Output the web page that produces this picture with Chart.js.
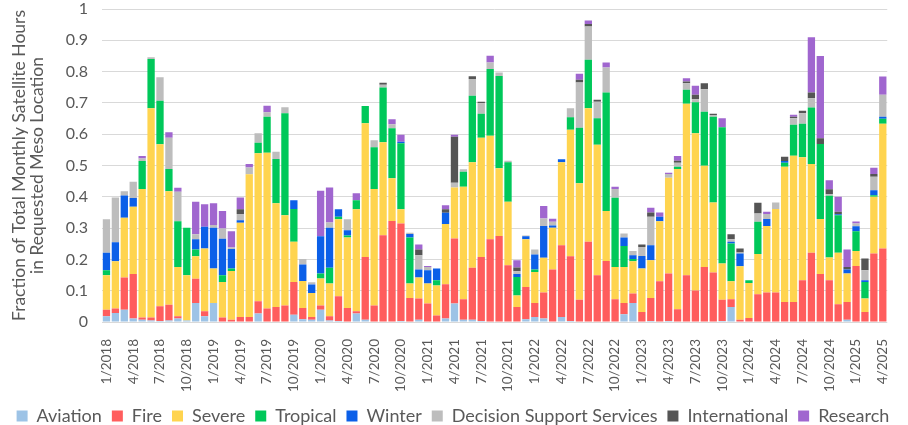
<!DOCTYPE html>
<html lang="en">
<head>
    <meta charset="UTF-8">
    <title>Meso sector hours by category</title>
    <style>
        body { margin: 0; background: #fff; }
        canvas { display: block; }
    </style>
    <script src="https://cdn.jsdelivr.net/npm/chart.js"></script>
</head>
<body>
    <canvas id="mesoChart" width="908" height="425"></canvas>

    <script>
        const months = [
            '1/2018','2/2018','3/2018','4/2018','5/2018','6/2018','7/2018','8/2018','9/2018','10/2018','11/2018','12/2018',
            '1/2019','2/2019','3/2019','4/2019','5/2019','6/2019','7/2019','8/2019','9/2019','10/2019','11/2019','12/2019',
            '1/2020','2/2020','3/2020','4/2020','5/2020','6/2020','7/2020','8/2020','9/2020','10/2020','11/2020','12/2020',
            '1/2021','2/2021','3/2021','4/2021','5/2021','6/2021','7/2021','8/2021','9/2021','10/2021','11/2021','12/2021',
            '1/2022','2/2022','3/2022','4/2022','5/2022','6/2022','7/2022','8/2022','9/2022','10/2022','11/2022','12/2022',
            '1/2023','2/2023','3/2023','4/2023','5/2023','6/2023','7/2023','8/2023','9/2023','10/2023','11/2023','12/2023',
            '1/2024','2/2024','3/2024','4/2024','5/2024','6/2024','7/2024','8/2024','9/2024','10/2024','11/2024','12/2024',
            '1/2025','2/2025','3/2025','4/2025'
        ];

        const aviation = [
            .018,.029,.039,.011,.007,.005,.003,.005,.011,.005,.061,.018,
            .061,0,0,0,0,.027,0,0,0,.023,.009,.007,
            .039,.005,.003,0,.027,.007,0,0,0,.003,0,.007,
            0,0,.011,.059,.007,.007,.003,0,0,0,0,.009,
            .016,.011,0,.016,.003,0,0,0,0,0,.025,.061,
            0,.003,0,.003,0,0,0,0,0,.003,.048,0,
            0,0,0,0,0,0,0,0,0,0,0,.007,
            0,0,0,0
        ];
        const fire = [
            .021,.014,.103,.142,.007,.009,.047,.05,.007,0,.077,.016,
            0,.014,.007,.016,.016,.039,.043,.048,.053,.105,.036,.009,
            .014,.013,.079,.045,.007,.201,.053,.277,.323,.312,.077,.068,
            .059,.021,.11,.208,.066,.166,.205,.264,.275,.181,.048,.103,
            .045,.083,.168,.229,.207,.071,.256,.149,.195,.073,.036,.03,
            .032,.074,.13,.152,.041,.149,.101,.176,.158,.068,.025,.007,
            .013,.089,.094,.094,.064,.064,.133,.221,.153,.133,.057,.057,
            .179,.032,.219,.235
        ];
        const severe = [
            .11,.151,.191,.215,.411,.669,.518,.363,.158,.144,.072,.201,
            .11,.114,.156,.301,.456,.473,.498,.331,.288,.128,.086,.077,
            .086,.105,.246,.225,.326,.427,.372,.297,.136,.045,.046,.067,
            .064,.096,.192,.163,.359,.337,.381,.331,.216,.203,.037,.152,
            .099,.111,.133,.265,.404,.372,.427,.417,.16,.103,.115,.103,
            .139,.12,.192,.306,.448,.548,.502,.323,.224,.116,.057,.171,
            .112,.128,.213,.267,.432,.467,.393,.284,.176,.073,.164,.091,
            .048,.043,.181,.398
        ];
        const tropical = [
            .016,0,0,0,.089,.157,.139,.071,.146,.152,.022,0,
            0,.021,.008,0,0,.034,.115,.142,.326,.105,0,0,
            .016,.05,.008,.006,.029,.055,.133,.175,.16,.211,.147,0,
            0,.016,0,0,.048,.213,.076,.213,.295,.126,.059,0,
            .008,0,0,0,.04,.178,.155,.085,.378,.221,.067,.007,
            0,0,0,0,.007,.045,.099,.173,.274,.435,.121,0,
            .008,.103,0,0,.013,.099,.107,.18,.24,.197,.12,0,
            .063,.053,.005,.016
        ];
        const winter = [
            .056,.061,.071,.028,0,0,0,0,0,0,.032,.069,
            .13,.117,.062,.008,0,0,0,0,0,.028,.053,.027,
            .119,.128,.024,.017,0,0,0,0,0,.005,.011,.026,
            .042,.038,.036,0,0,0,0,0,0,0,.009,.01,
            .048,.102,.007,.01,0,0,0,0,0,0,.027,.012,
            .04,.048,.014,0,0,0,0,0,0,0,.005,.041,
            0,0,.022,0,.005,0,0,0,0,0,.003,.013,
            .016,.005,.016,.007
        ];
        const dss = [
            .107,.143,.014,.052,.008,.006,.075,.1,.094,0,.016,0,
            .009,.033,.005,.02,.022,.03,.014,.023,.019,0,.017,.007,
            0,.017,0,.035,0,0,.023,.009,.013,0,.004,.045,
            .011,0,0,.015,.008,.053,.034,.021,.011,.005,.009,.002,
            .016,.024,.012,0,.029,.144,.106,.053,.08,.028,.013,.014,
            .029,.091,0,.012,.013,.021,.01,.072,.005,0,.008,.003,
            0,.027,.016,.021,0,.021,.034,.03,0,.005,0,0,
            .009,.032,.043,.07
        ];
        const international = [
            0,0,0,0,0,0,0,0,0,0,0,0,
            0,0,0,.015,0,0,0,0,0,0,0,0,
            0,0,0,0,0,0,0,.006,0,0,0,.019,
            0,0,.011,.147,0,.009,.005,0,0,0,.012,0,
            0,0,0,0,0,.009,.008,.006,0,0,0,0,
            .008,.014,0,0,.006,.005,.014,.019,.004,0,.016,.013,
            0,.034,0,0,.014,.005,.008,.018,.018,.016,.008,.008,
            0,.038,.009,0
        ];
        const research = [
            0,0,0,0,.008,0,0,.017,.013,0,.104,.072,
            .069,.056,.052,.038,.011,0,.021,0,0,0,0,0,
            .145,.112,0,0,.022,0,0,0,.016,.022,0,.016,
            .003,0,.013,.006,0,0,0,.022,0,0,.023,0,
            0,.04,.01,0,0,.019,.011,0,.016,.007,0,0,
            0,.015,.014,.004,.015,.011,.029,0,0,.029,0,0,
            0,0,.007,0,0,.006,0,.177,.263,.029,.048,.056,
            .006,0,.02,.058
        ];

        const series = [
            ['Aviation', aviation, '#9dc3e6'],
            ['Fire', fire, '#ff5d5d'],
            ['Severe', severe, '#ffd44f'],
            ['Tropical', tropical, '#00c85a'],
            ['Winter', winter, '#0b5fe8'],
            ['Decision Support Services', dss, '#bdbdbd'],
            ['International', international, '#555555'],
            ['Research', research, '#a066cf']
        ];

        const grey = '#595959';
        Chart.defaults.font.family = 'Lato, "Open Sans", sans-serif';

        new Chart(document.getElementById('mesoChart'), {
            type: 'bar',
            data: {
                labels: months,
                datasets: series.map(([name, vals, col]) => ({
                    label: name,
                    data: vals,
                    backgroundColor: col,
                    borderWidth: 0,
                    categoryPercentage: 1,
                    barPercentage: 0.82
                }))
            },
            options: {
                responsive: false,
                animation: false,
                // negative bottom padding pushes the legend row down toward the edge
                layout: { padding: { top: 0, right: 2, bottom: -10 } },
                plugins: {
                    tooltip: { enabled: false },
                    legend: {
                        position: 'bottom',
                        labels: {
                            boxWidth: 11,
                            boxHeight: 11,
                            padding: 10,
                            color: grey,
                            font: { size: 18 }
                        }
                    }
                },
                scales: {
                    x: {
                        stacked: true,
                        grid: { display: false },
                        border: { display: false },
                        ticks: {
                            autoSkip: false,
                            minRotation: 90,
                            maxRotation: 90,
                            padding: 9,
                            color: grey,
                            font: { size: 13.5 },
                            callback: (v, i) => i % 3 === 0 ? months[i] : ''
                        },
                        afterFit: s => { s.height = 75; }
                    },
                    y: {
                        stacked: true,
                        min: 0,
                        max: 1,
                        ticks: {
                            stepSize: 0.1,
                            color: grey,
                            font: { size: 16 },
                            padding: 14,
                            callback: v => String(Math.round(v * 10) / 10)
                        },
                        grid: { color: '#d9d9d9', drawTicks: false },
                        border: { display: false },
                        title: {
                            display: true,
                            text: ['Fraction of Total Monthly Satellite Hours', 'in Requested Meso Location'],
                            color: grey,
                            font: { size: 17.5, lineHeight: 1.05 },
                            padding: { top: 10, bottom: 0 }
                        },
                        afterFit: s => { s.width = 102; s.paddingTop = 9; }
                    }
                }
            }
        });
    </script>
</body>
</html>
